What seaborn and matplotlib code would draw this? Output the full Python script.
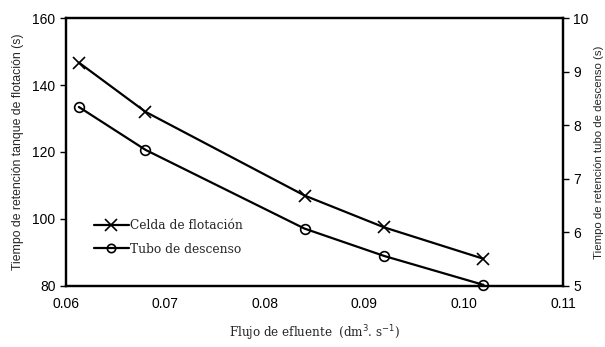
import matplotlib
matplotlib.use("Agg")
import matplotlib.pyplot as plt
from matplotlib.lines import Line2D
import seaborn as sns
import pandas as pd

# Effluent flow (dm3/s) and retention times
flujo = [0.0613, 0.068, 0.084, 0.092, 0.102]
celda_flotacion = [146.7, 132.0, 107.0, 97.5, 88.1]   # left axis (s)
tubo_descenso = [8.34, 7.54, 6.07, 5.56, 5.02]        # right axis (s)

df = pd.DataFrame({"flujo": flujo, "celda": celda_flotacion, "tubo": tubo_descenso})

sns.set_style("white")
plt.rcParams["font.family"] = ["Liberation Sans", "DejaVu Sans"]

fig = plt.figure(figsize=(6.05, 3.47), dpi=100)
ax = fig.add_axes([0.109, 0.176, 0.8216, 0.772])
ax2 = ax.twinx()

sns.lineplot(data=df, x="flujo", y="celda", ax=ax, color="black", linewidth=1.6,
             marker="x", markersize=9, markeredgewidth=1.2, markeredgecolor="black")
sns.lineplot(data=df, x="flujo", y="tubo", ax=ax2, color="black", linewidth=1.6,
             marker="o", markersize=7, markerfacecolor="none", markeredgewidth=1.2,
             markeredgecolor="black", clip_on=False)

ax.set_xlim(0.06, 0.11)
ax.set_ylim(80, 160)
ax2.set_ylim(5, 10)
ax.set_xticks([0.06, 0.07, 0.08, 0.09, 0.10, 0.11])
ax.set_xticklabels(["0.06", "0.07", "0.08", "0.09", "0.10", "0.11"])
ax.set_yticks([80, 100, 120, 140, 160])
ax2.set_yticks([5, 6, 7, 8, 9, 10])

for a in (ax, ax2):
    for s in a.spines.values():
        s.set_linewidth(1.6)
        s.set_color("black")

ax.tick_params(axis="x", direction="in", length=4, width=1, labelsize=10, pad=8, colors="black")
ax.tick_params(axis="y", direction="out", length=4, width=1, labelsize=10, colors="black", left=True)
ax2.tick_params(axis="y", direction="out", length=4, width=1, labelsize=10, colors="black", right=True)

ax.set_ylabel("Tiempo de retención tanque de flotación (s)", fontsize=8.8, labelpad=6)
ax2.set_ylabel("Tiempo de retención tubo de descenso (s)", fontsize=8.2, labelpad=4)
ax.set_xlabel(r"Flujo de efluente  (dm$^{3}$. s$^{-1}$)", fontsize=8.6,
              family="DejaVu Serif", labelpad=9)

handles = [
    Line2D([], [], color="black", linewidth=1.6, marker="x", markersize=9, markeredgewidth=1.2),
    Line2D([], [], color="black", linewidth=1.6, marker="o", markersize=6,
           markerfacecolor="none", markeredgewidth=1.2),
]
ax.legend(handles, ["Celda de flotación", "Tubo de descenso"], loc="upper left",
          bbox_to_anchor=(0.035, 0.29), frameon=False, handlelength=2.8, handletextpad=0.1,
          labelspacing=0.85, prop={"family": "DejaVu Serif", "size": 8.8})

fig.savefig("out.png", dpi=100)
